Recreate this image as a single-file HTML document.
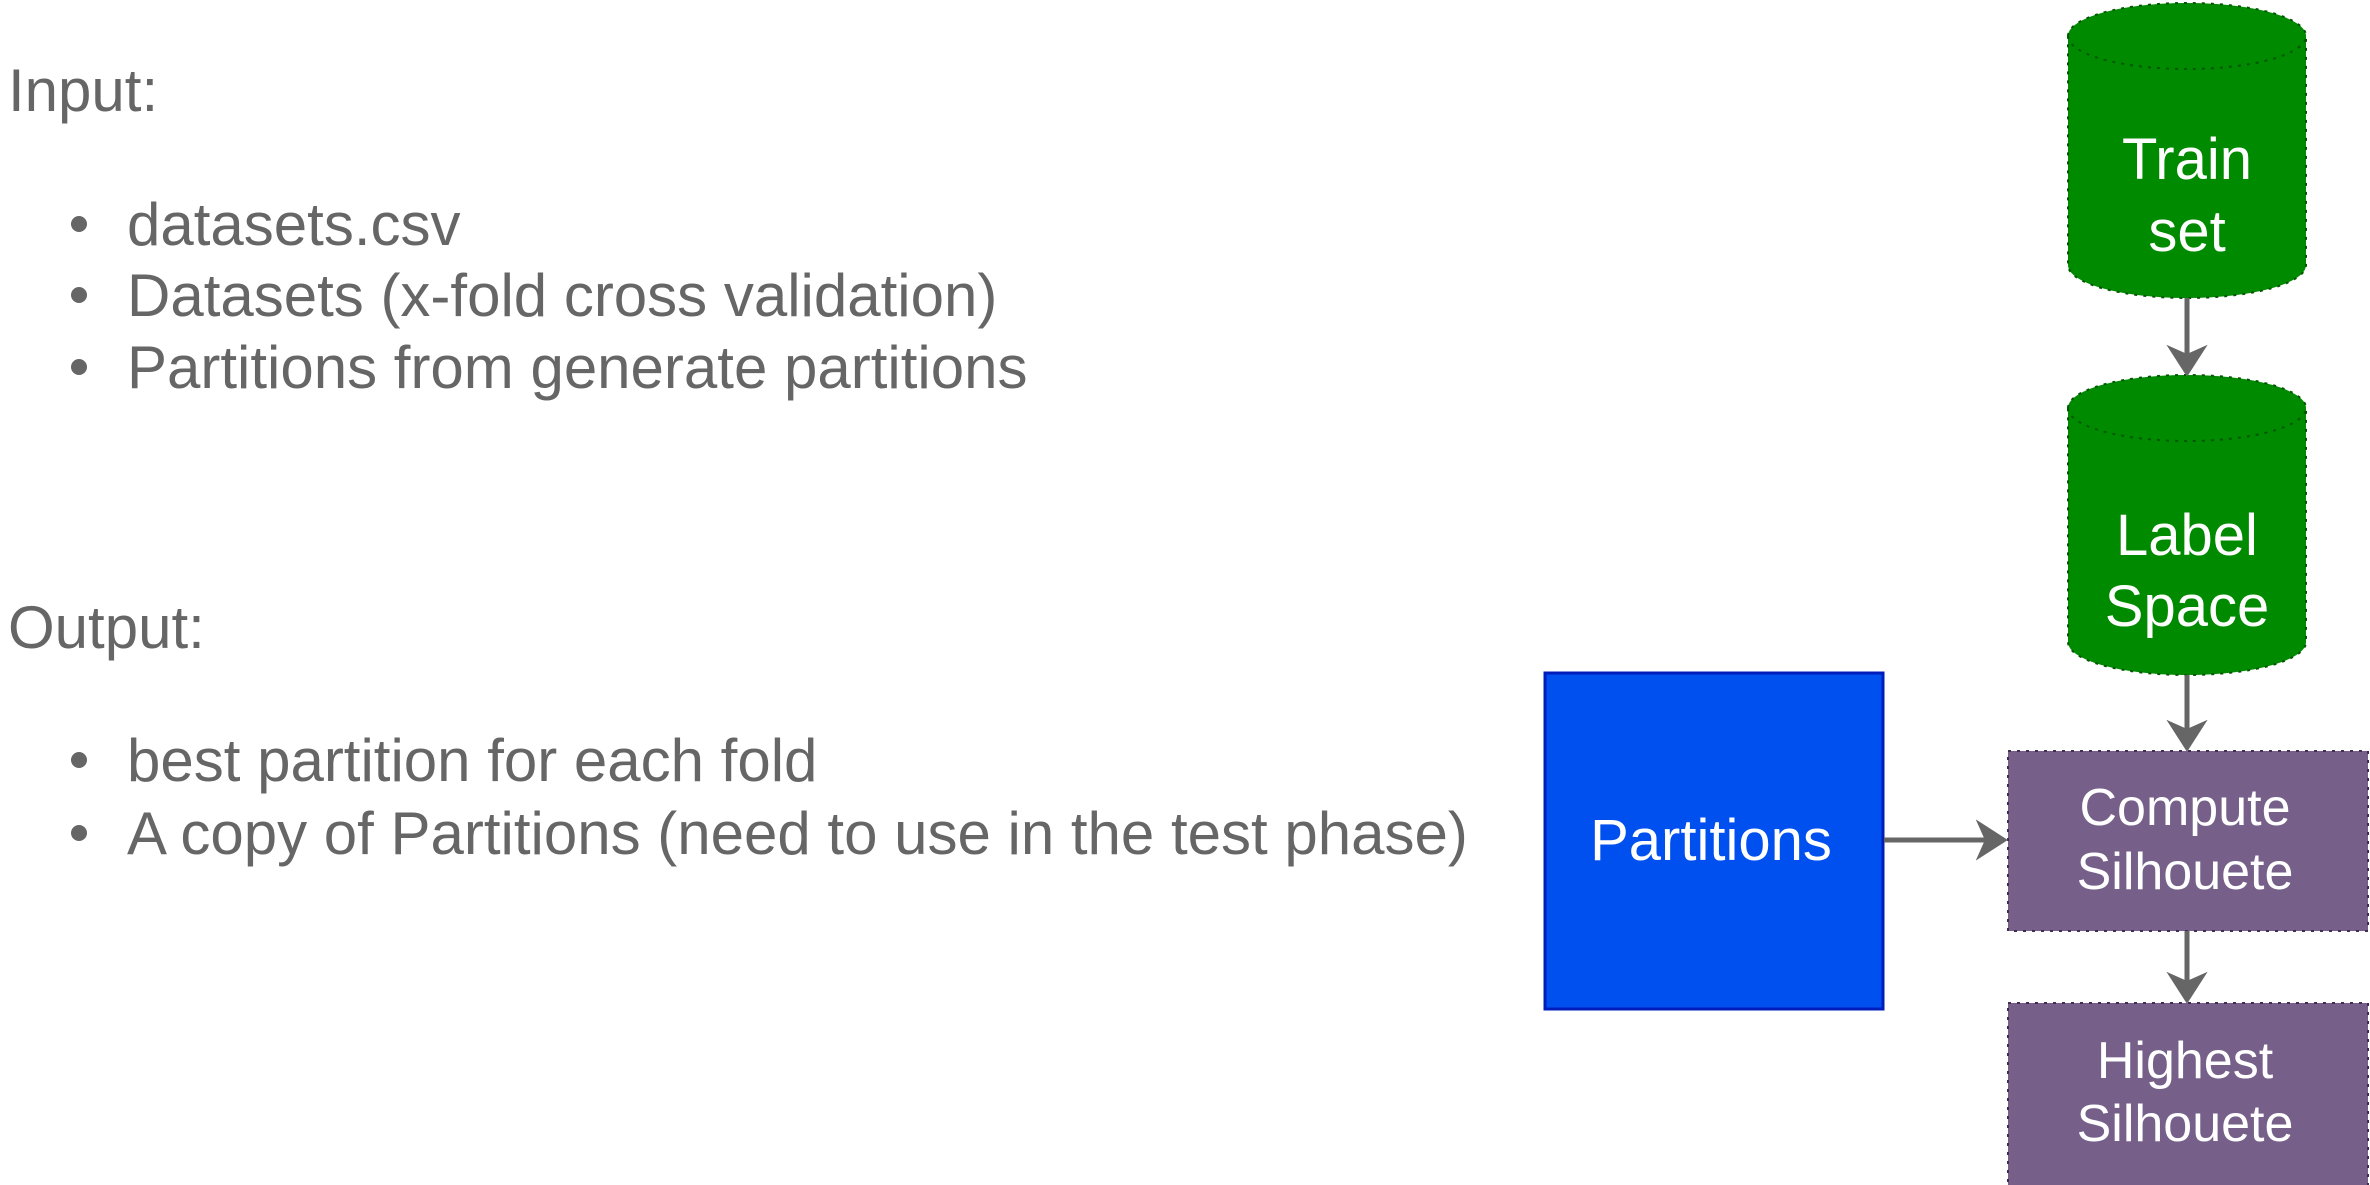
<!DOCTYPE html>
<html><head><meta charset="utf-8"><style>
html,body{margin:0;padding:0;background:#fff;width:2370px;height:1185px;overflow:hidden}
svg{display:block}
text{font-family:"Liberation Sans",Arial,sans-serif}
</style></head><body>
<svg width="2370" height="1185" viewBox="0 0 2370 1185">
<g fill="#666666" font-size="60">
<text x="8" y="111">Input:</text>
<circle cx="79" cy="224" r="8"/>
<text x="127" y="245">datasets.csv</text>
<circle cx="79" cy="295" r="8"/>
<text x="127" y="316">Datasets (x-fold cross validation)</text>
<circle cx="79" cy="367" r="8"/>
<text x="127" y="388">Partitions from generate partitions</text>
<text x="8" y="648">Output:</text>
<circle cx="79" cy="760" r="8"/>
<text x="127" y="781">best partition for each fold</text>
<circle cx="79" cy="833" r="8"/>
<text x="127" y="854">A copy of Partitions (need to use in the test phase)</text>
</g>

<g>
<path d="M2068,36 A119,33 0 0 1 2306,36 L2306,265 A119,33 0 0 1 2068,265 Z" fill="#008a00" stroke="#005700" stroke-width="2" stroke-dasharray="3,6"/>
<path d="M2068,36 A119,33 0 0 0 2306,36" fill="none" stroke="#005700" stroke-width="2" stroke-dasharray="3,6"/>
<text x="2187" y="179" fill="#fff" font-size="58" text-anchor="middle">Train</text>
<text x="2187" y="251" fill="#fff" font-size="58" text-anchor="middle">set</text>
</g>
<g>
<path d="M2068,408 A119,33 0 0 1 2306,408 L2306,642 A119,33 0 0 1 2068,642 Z" fill="#008a00" stroke="#005700" stroke-width="2" stroke-dasharray="3,6"/>
<path d="M2068,408 A119,33 0 0 0 2306,408" fill="none" stroke="#005700" stroke-width="2" stroke-dasharray="3,6"/>
<text x="2187" y="555" fill="#fff" font-size="58" text-anchor="middle">Label</text>
<text x="2187" y="626" fill="#fff" font-size="58" text-anchor="middle">Space</text>
</g>
<g>
<rect x="1545" y="673" width="338" height="336" fill="#0050ef" stroke="#001dbc" stroke-width="3"/>
<text x="1711" y="860" fill="#fff" font-size="58" text-anchor="middle">Partitions</text>
</g>
<g>
<rect x="2008" y="751" width="360" height="180" fill="#76608a" stroke="#432d57" stroke-width="2" stroke-dasharray="3,6"/>
<text x="2185" y="825" fill="#fff" font-size="52" text-anchor="middle">Compute</text>
<text x="2185" y="889" fill="#fff" font-size="52" text-anchor="middle">Silhouete</text>
</g>
<g>
<rect x="2008" y="1003" width="360" height="184" fill="#76608a" stroke="#432d57" stroke-width="2" stroke-dasharray="3,6"/>
<text x="2185" y="1078" fill="#fff" font-size="52" text-anchor="middle">Highest</text>
<text x="2185" y="1141" fill="#fff" font-size="52" text-anchor="middle">Silhouete</text>
</g>
<g stroke="#666" stroke-width="5" fill="#666">
<g>
<line x1="2187" y1="298" x2="2187" y2="360"/>
<path d="M2169,347 L2187,375 L2205,347 L2187,355 Z" stroke-width="2"/>
</g>
<g>
<line x1="2187" y1="675" x2="2187" y2="735"/>
<path d="M2169,722 L2187,750 L2205,722 L2187,730 Z" stroke-width="2"/>
</g>
<g>
<line x1="2187" y1="931" x2="2187" y2="987"/>
<path d="M2169,974 L2187,1002 L2205,974 L2187,982 Z" stroke-width="2"/>
</g>
<g>
<line x1="1884" y1="840" x2="1990" y2="840"/>
<path d="M1978,822 L2006,840 L1978,858 L1986,840 Z" stroke-width="2"/>
</g>
</g>
</svg>
</body></html>
